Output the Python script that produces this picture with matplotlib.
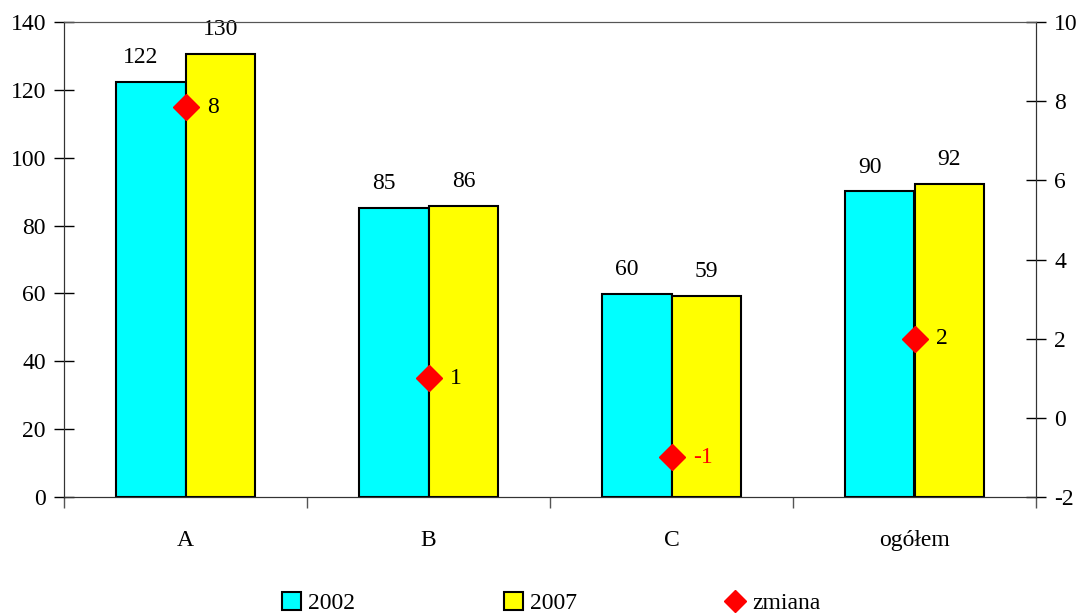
import matplotlib.pyplot as plt
from matplotlib.lines import Line2D
from matplotlib.patches import Patch
import numpy as np

plt.rcParams["font.family"] = ["Liberation Serif", "DejaVu Serif"]
plt.rcParams["font.size"] = 17
plt.rcParams["axes.unicode_minus"] = False

# data
categories = ["A", "B", "C", "ogółem"]
values_2002 = [122.4, 85.2, 59.9, 90.1]
values_2007 = [130.7, 85.8, 59.3, 92.4]
labels_2002 = ["122", "85", "60", "90"]
labels_2007 = ["130", "86", "59", "92"]
change = [7.85, 1.0, -1.0, 2.0]
change_labels = ["8", "1", "-1", "2"]

CYAN = "#00FFFF"
YELLOW = "#FFFF00"
RED = "#FF0000"

fig = plt.figure(figsize=(10.81, 6.14), dpi=100)
ax1 = fig.add_axes([64 / 1081, 1 - 497 / 614, 972 / 1081, 475 / 614])
ax2 = ax1.twinx()

x = np.arange(len(categories))
width = 0.288

ax1.bar(x - width / 2, values_2002, width, color=CYAN, edgecolor="black", linewidth=1.5, zorder=2)
ax1.bar(x + width / 2, values_2007, width, color=YELLOW, edgecolor="black", linewidth=1.5, zorder=2)

# value labels above the bars
for xi, v, lab in zip(x - width / 2, values_2002, labels_2002):
    ax1.text(xi - 0.04, v + 4, lab, ha="center", va="bottom")
for xi, v, lab in zip(x + width / 2, values_2007, labels_2007):
    ax1.text(xi, v + 4, lab, ha="center", va="bottom")

# change markers on the right axis
ax2.plot(x, change, linestyle="none", marker="D", markersize=13, color=RED, zorder=3)
for xi, c, lab in zip(x, change, change_labels):
    ax2.text(xi + 0.09, c, lab, ha="left", va="center",
             color=RED if c < 0 else "black")

ax1.set_xlim(-0.5, len(categories) - 0.5)
ax1.set_ylim(0, 140)
ax1.set_yticks(np.arange(0, 141, 20))
ax2.set_ylim(-2, 10)
ax2.set_yticks(np.arange(-2, 11, 2))

# category labels between boundary ticks
ax1.set_xticks(np.arange(-0.5, len(categories), 1.0))
ax1.set_xticklabels([])
ax1.set_xticks(x, minor=True)
ax1.set_xticklabels(categories, minor=True)
ax1.tick_params(axis="x", which="major", direction="out", length=8, width=1, color="#555555")
ax1.tick_params(axis="x", which="minor", length=0, pad=24)
ax1.tick_params(axis="y", direction="inout", length=14, width=1, pad=6)
ax2.tick_params(axis="y", direction="inout", length=14, width=1, pad=6)

for ax in (ax1, ax2):
    ax.spines["top"].set_color("#555555")
    ax.spines["bottom"].set_color("#333333")
    ax.spines["left"].set_color("#333333")
    ax.spines["right"].set_color("#333333")
ax1.set_zorder(ax2.get_zorder() - 1)
ax2.patch.set_visible(False)

handles = [
    Patch(facecolor=CYAN, edgecolor="black", linewidth=1.5, label="2002"),
    Patch(facecolor=YELLOW, edgecolor="black", linewidth=1.5, label="2007"),
    Line2D([], [], linestyle="none", marker="D", markersize=11, color=RED, label="zmiana"),
]
fig.legend(handles=handles, loc="lower center", bbox_to_anchor=(0.51, -0.035), ncol=3,
           frameon=False, handlelength=0.8, handleheight=0.8, handletextpad=0.3,
           columnspacing=6.3)

fig.savefig("out.png", dpi=100)
